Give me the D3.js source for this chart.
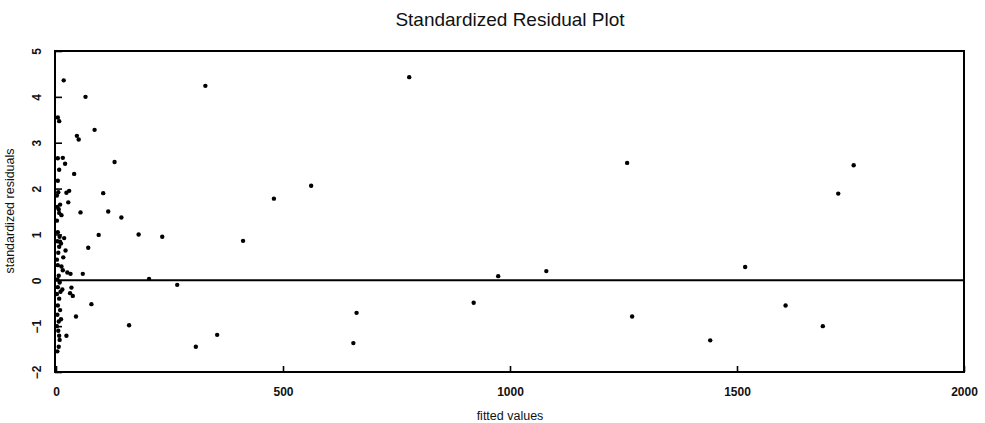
<!DOCTYPE html>
<html>
<head>
<meta charset="utf-8">
<script src="https://cdn.jsdelivr.net/npm/d3@7"></script>
<style>
  html, body { margin: 0; padding: 0; background: #fff; }
  svg { display: block; }
  text { font-family: "Liberation Sans", Arial, Helvetica, sans-serif; fill: #111; }
</style>
</head>
<body>
<svg id="chart" width="985" height="423"></svg>
<script>
// Fitted values and their standardized residuals
const fitted = [
  329, 778, 562, 480, 412, 308, 355, 662, 655, 920,
  1258, 974, 1080, 1269, 1441, 1518, 1757, 1723, 1607, 1689,
  205, 267, 234, 182, 161, 144, 115, 104, 94, 71,
  129, 85, 65, 17, 46, 50, 78, 40, 54, 18,
  21, 16, 25, 32, 59, 34, 31, 37, 44, 23,
  29, 23, 27, 15, 20, 4, 4, 7, 7, 4,
  12, 7, 9, 7, 4, 15, 7, 6,
  2, 5, 3, 9, 6, 2, 4, 8, 3, 11,
  5, 2, 6, 3, 8, 4, 10, 2, 7, 4,
  9, 3, 6, 2, 5, 8, 3, 12, 14, 11
];
const residuals = [
  4.24, 4.43, 2.06, 1.78, 0.86, -1.45, -1.19, -0.71, -1.37, -0.49,
  2.56, 0.09, 0.20, -0.79, -1.31, 0.29, 2.51, 1.89, -0.55, -1.00,
  0.03, -0.10, 0.95, 1.00, -0.98, 1.37, 1.50, 1.90, 0.99, 0.71,
  2.58, 3.28, 4.00, 4.36, 3.15, 3.07, -0.52, 2.32, 1.48, 0.92,
  0.65, 0.50, 0.17, 0.14, 0.14, -0.16, -0.28, -0.34, -0.79, -1.21,
  1.95, 1.91, 1.70, 2.67, 2.54, 2.66, 3.55, 3.47, 2.41, 2.17,
  1.42, 1.47, 0.84, 0.73, 0.33, 0.22, -1.21, -1.45,
  1.85, 1.92, 1.60, 1.65, 1.55, 1.30, 1.05, 0.95, 0.85, 0.80,
  0.60, 0.45, 0.10, 0.02, -0.05, -0.15, -0.25, -0.30, -0.40, -0.55,
  -0.65, -0.75, -0.90, -1.00, -1.10, -1.30, -1.55, 0.30, -0.20, -0.85
];
const xTicks = [0, 500, 1000, 1500, 2000];
const yTicks = [-2, -1, 0, 1, 2, 3, 4, 5];

const svg = d3.select("#chart");
const plotLeft = 55, plotRight = 964, plotTop = 51, plotBottom = 372;

const x = d3.scaleLinear().domain([0, 2000]).range([plotLeft + 1, plotRight]);
const y = d3.scaleLinear().domain([-2, 5]).range([plotBottom, plotTop]);

// Title
svg.append("text")
  .attr("x", 510).attr("y", 26)
  .attr("text-anchor", "middle")
  .style("font-size", "19px")
  .text("Standardized Residual Plot");

// Plot frame
svg.append("rect")
  .attr("x", plotLeft).attr("y", plotTop)
  .attr("width", plotRight - plotLeft).attr("height", plotBottom - plotTop)
  .attr("fill", "none").attr("stroke", "#000").attr("stroke-width", 2);

// Y axis: inward ticks, rotated labels
const yAxis = d3.axisLeft(y).tickValues(yTicks).tickSize(-7).tickPadding(0).tickFormat(d3.format("d"));
const gy = svg.append("g").attr("transform", `translate(${plotLeft},0)`).call(yAxis);
gy.select(".domain").remove();
gy.selectAll(".tick line").attr("stroke", "#000").attr("stroke-width", 1.6);
gy.selectAll(".tick text")
  .attr("x", 0).attr("dy", null)
  .attr("transform", "translate(-18,0) rotate(-90)")
  .attr("text-anchor", "middle")
  .attr("dominant-baseline", "central")
  .style("font-size", "12px").style("font-weight", "bold");

// X axis: inward ticks
const xAxis = d3.axisBottom(x).tickValues(xTicks).tickSize(-6).tickPadding(0).tickFormat(d3.format("d"));
const gx = svg.append("g").attr("transform", `translate(0,${plotBottom})`).call(xAxis);
gx.select(".domain").remove();
gx.selectAll(".tick line").attr("stroke", "#000").attr("stroke-width", 1.6);
gx.selectAll(".tick text")
  .attr("y", 24).attr("dy", null)
  .style("font-size", "12px").style("font-weight", "bold");

// Axis titles
svg.append("text")
  .attr("x", 510).attr("y", 420)
  .attr("text-anchor", "middle")
  .style("font-size", "12.5px")
  .text("fitted values");
svg.append("text")
  .attr("transform", "translate(14,211) rotate(-90)")
  .attr("text-anchor", "middle")
  .style("font-size", "12.5px")
  .text("standardized residuals");

// Zero reference line
svg.append("line")
  .attr("x1", plotLeft).attr("x2", plotRight)
  .attr("y1", y(0)).attr("y2", y(0))
  .attr("stroke", "#000").attr("stroke-width", 2);

// Points
svg.append("g").selectAll("circle")
  .data(fitted.map((f, i) => [f, residuals[i]]))
  .join("circle")
  .attr("cx", d => x(d[0]))
  .attr("cy", d => y(d[1]))
  .attr("r", 2.2)
  .attr("fill", "#000");
</script>
</body>
</html>
